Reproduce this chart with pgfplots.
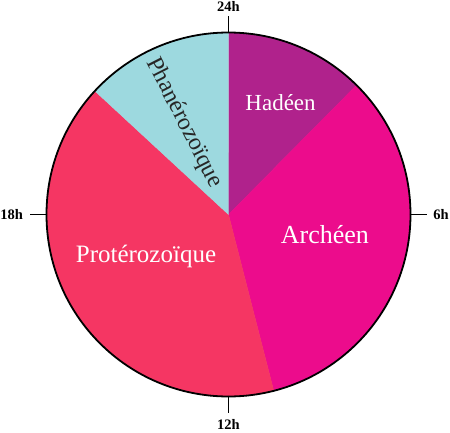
\documentclass[border=0pt]{standalone}
\usepackage{fontspec}
\setmainfont{Liberation Serif}
\usepackage{pgfplots}
\pgfplotsset{compat=1.18}
\usepgfplotslibrary{polar}

\definecolor{hadeen}{HTML}{B0228C}
\definecolor{archeen}{HTML}{EC0C8C}
\definecolor{proterozoique}{HTML}{F53663}
\definecolor{phanerozoique}{HTML}{9DD9DF}

% clock: 24h at the top, running clockwise; polar angle = 90 - 15*hour
% era limits in hours: 0, 2.98, 11.04, 20.85, 24
\begin{document}
\begin{tikzpicture}
\begin{polaraxis}[
  width=364pt, height=364pt, scale only axis,
  ymin=0, ymax=1,
  xtick=\empty,
  ytick=\empty,
  grid=none,
  clip=false,
  axis on top,
  x axis line style={line width=1.8pt},
  y axis line style={draw=none},
]
\addplot[draw=hadeen, fill=hadeen, line join=round, domain={90-15*2.98}:{90-15*0}, samples=60] {1} -- (axis cs:0,0) -- cycle;
\addplot[draw=archeen, fill=archeen, line join=round, domain={90-15*11.04}:{90-15*2.98}, samples=120] {1} -- (axis cs:0,0) -- cycle;
\addplot[draw=proterozoique, fill=proterozoique, line join=round, domain={90-15*20.85}:{90-15*11.04}, samples=140] {1} -- (axis cs:0,0) -- cycle;
\addplot[draw=phanerozoique, fill=phanerozoique, line join=round, domain={90-15*24}:{90-15*20.85}, samples=60] {1} -- (axis cs:0,0) -- cycle;

% hour ticks (outside the dial)
\addplot[black, line width=1.8pt] coordinates {(90,0.995) (90,1.088)};
\addplot[black, line width=1.8pt] coordinates {(0,0.995) (0,1.088)};
\addplot[black, line width=1.8pt] coordinates {(-90,0.995) (-90,1.088)};
\addplot[black, line width=1.8pt] coordinates {(180,0.995) (180,1.088)};

\coordinate (c) at (axis cs:0,0);
\begin{scope}[font=\bfseries\fontsize{14.5}{14.5}\selectfont, inner sep=0pt]
\node[anchor=south] at (axis cs:90,1.113) {24h};
\node[anchor=west] at (axis cs:0,1.124) {6h};
\node[anchor=north] at (axis cs:-90,1.124) {12h};
\node[anchor=east] at (axis cs:180,1.129) {18h};
\end{scope}
\node[anchor=base, text=white, font=\fontsize{23}{23}\selectfont] at (axis cs:63.5,0.641) {Hadéen};
\node[anchor=base, text=white, font=\fontsize{26}{26}\selectfont] at (axis cs:-17.0,0.554) {Archéen};
\node[anchor=base, text=white, font=\fontsize{25}{25}\selectfont] at (axis cs:210.1,0.524) {Protérozoïque};
\node[rotate=-63, text=black!85, font=\fontsize{24}{24}\selectfont] at (axis cs:115.9,0.559) {Phanérozoïque};
\end{polaraxis}
\pgfresetboundingbox
\path (c) ++(-228.5pt,-217.5pt) rectangle ++(450pt,432pt);
\end{tikzpicture}
\end{document}
